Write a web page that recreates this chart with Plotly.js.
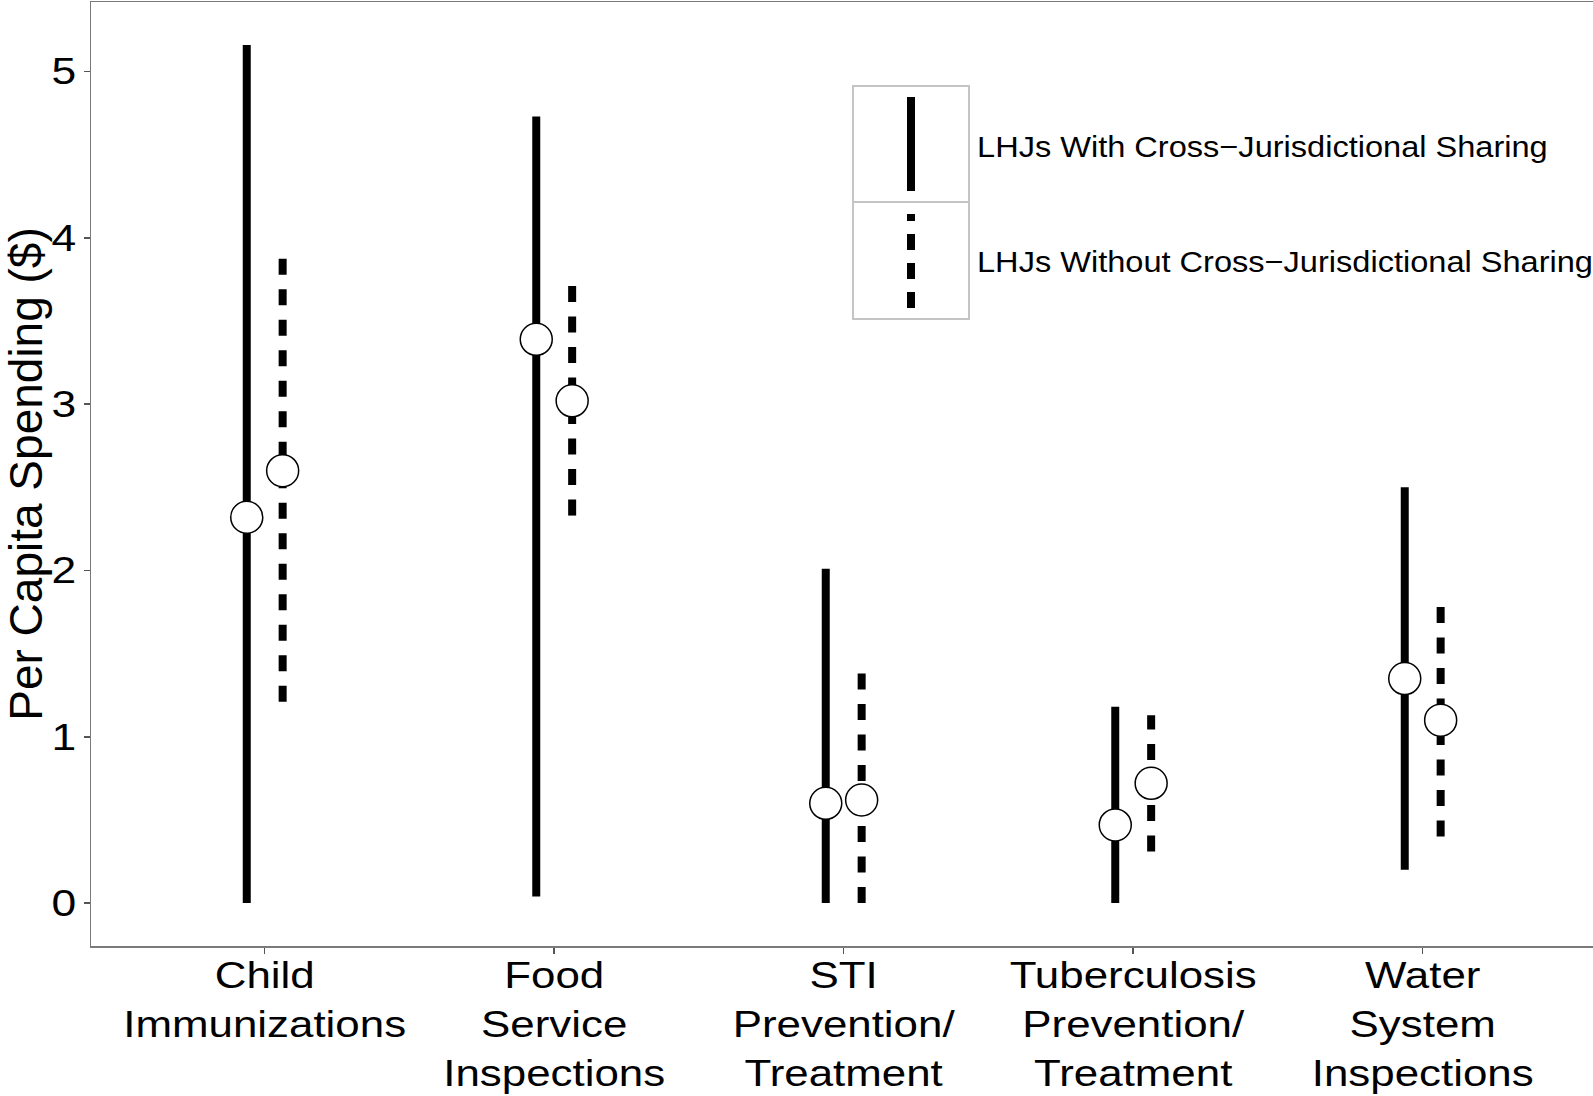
<!DOCTYPE html>
<html>
<head>
<meta charset="utf-8">
<script src="https://cdn.plot.ly/plotly-3.0.1.min.js"></script>
<style>
  html, body { margin: 0; padding: 0; background: #ffffff; }
  #chart { width: 1593px; height: 1096px; }
</style>
</head>
<body>
<div id="chart"></div>
<script>
// ---- data ----
const categories = [
  'Child<br>Immunizations',
  'Food<br>Service<br>Inspections',
  'STI<br>Prevention/<br>Treatment',
  'Tuberculosis<br>Prevention/<br>Treatment',
  'Water<br>System<br>Inspections'
];
const seriesNames = ['LHJs With Cross\u2212Jurisdictional Sharing', 'LHJs Without Cross\u2212Jurisdictional Sharing'];
const withMean  = [2.32, 3.39, 0.60, 0.47, 1.35];
const withLow   = [0.00, 0.04, 0.00, 0.00, 0.20];
const withHigh  = [5.16, 4.73, 2.01, 1.18, 2.50];
const withoutMean = [2.60, 3.02, 0.62, 0.72, 1.10];
const withoutLow  = [1.21, 2.33, 0.00, 0.31, 0.40];
const withoutHigh = [3.89, 3.72, 1.39, 1.13, 1.79];
const yTicks = [0, 1, 2, 3, 4, 5];

// ---- layout constants ----
const W = 1593, H = 1096;
const M = { l: 91, r: 0, t: 2, b: 150 };
const plotW = W - M.l - M.r, plotH = H - M.t - M.b;
const dodge = 0.062;
const FONT = '"Liberation Sans", Arial, Helvetica, sans-serif';
const DASH = '16px,14.5px';

const catPos = categories.map((c, i) => i + 1);
const traces = [];
const groups = [
  { name: seriesNames[0], mean: withMean, low: withLow, high: withHigh, off: -dodge, dash: 'solid' },
  { name: seriesNames[1], mean: withoutMean, low: withoutLow, high: withoutHigh, off: dodge, dash: DASH }
];
groups.forEach(g => {
  catPos.forEach((p, i) => {
    traces.push({
      type: 'scatter', mode: 'lines',
      x: [p + g.off, p + g.off], y: [g.low[i], g.high[i]],
      line: { color: '#000000', width: 8, dash: g.dash },
      name: g.name, showlegend: false, hoverinfo: 'skip'
    });
  });
});
groups.forEach(g => {
  traces.push({
    type: 'scatter', mode: 'markers',
    x: catPos.map(p => p + g.off), y: g.mean,
    marker: { size: 32, color: '#ffffff', line: { color: '#000000', width: 1.5 } },
    name: g.name, showlegend: false
  });
});

// pixel -> paper helpers for the hand-drawn legend
const px = x => (x - M.l) / plotW;
const py = y => (H - M.b - y) / plotH;

const legendColor = '#c4c4c4';
const shapes = [
  { type: 'rect', xref: 'paper', yref: 'paper', x0: px(853), x1: px(969), y0: py(319), y1: py(86),
    line: { color: legendColor, width: 2 }, fillcolor: '#ffffff', layer: 'above' },
  { type: 'line', xref: 'paper', yref: 'paper', x0: px(853), x1: px(969), y0: py(202), y1: py(202),
    line: { color: legendColor, width: 2 }, layer: 'above' },
  { type: 'line', xref: 'paper', yref: 'paper', x0: px(911), x1: px(911), y0: py(191), y1: py(97),
    line: { color: '#000000', width: 8 }, layer: 'above' },
  { type: 'line', xref: 'paper', yref: 'paper', x0: px(911), x1: px(911), y0: py(308), y1: py(214),
    line: { color: '#000000', width: 8, dash: '16px,13px' }, layer: 'above' }
];
const annotations = [
  { xref: 'paper', yref: 'paper', x: px(975), y: py(146), xanchor: 'left', yanchor: 'middle',
    text: seriesNames[0], showarrow: false, font: { family: FONT, size: 30, color: '#000000' } },
  { xref: 'paper', yref: 'paper', x: px(975), y: py(261), xanchor: 'left', yanchor: 'middle',
    text: seriesNames[1], showarrow: false, font: { family: FONT, size: 30, color: '#000000' } }
];

const layout = {
  width: W, height: H,
  margin: M,
  paper_bgcolor: '#ffffff', plot_bgcolor: '#ffffff',
  showlegend: false,
  font: { family: FONT, color: '#000000' },
  xaxis: {
    range: [0.4, 0.4 + plotW / 289.5],
    tickvals: catPos, ticktext: categories,
    showgrid: false, zeroline: false,
    showline: true, mirror: true, linecolor: '#7a7a7a', linewidth: 1.5,
    ticks: 'outside', ticklen: 6, tickwidth: 1.5, tickcolor: '#555555',
    ticklabelstandoff: -10,
    tickfont: { family: FONT, size: 37.5, color: '#000000' },
    automargin: false, fixedrange: true
  },
  yaxis: {
    range: [-0.258, 5.418],
    tickvals: yTicks, ticktext: yTicks.map(String),
    showgrid: false, zeroline: false,
    showline: true, mirror: false, linecolor: '#7a7a7a', linewidth: 1.5,
    ticks: 'outside', ticklen: 6, tickwidth: 1.5, tickcolor: '#555555',
    tickfont: { family: FONT, size: 37, color: '#000000' },
    title: { text: 'Per Capita Spending ($)', font: { family: FONT, size: 46, color: '#000000' }, standoff: 2 },
    automargin: false, fixedrange: true
  },
  shapes: shapes,
  annotations: annotations
};

// the reference's text glyphs are drawn horizontally wider than standard Arial
function stretch(selector, s, mode) {
  document.querySelectorAll(selector).forEach(el => {
    try {
      const r = el.getBoundingClientRect();
      const anchor = mode || el.getAttribute('text-anchor') || 'start';
      const cx = anchor === 'middle' ? (r.left + r.right) / 2 : anchor === 'end' ? r.right : r.left;
      const svg = el.ownerSVGElement;
      const pt = svg.createSVGPoint();
      pt.x = cx; pt.y = r.top;
      const p = pt.matrixTransform(el.parentNode.getScreenCTM().inverse());
      const t = el.getAttribute('transform') || '';
      el.setAttribute('transform', `translate(${p.x},0) scale(${s},1) translate(${-p.x},0) ${t}`);
    } catch (e) { /* leave untouched */ }
  });
}

Plotly.newPlot('chart', traces, layout, { displayModeBar: false, staticPlot: true }).then(() => {
  stretch('.xtick text', 1.17, 'middle');
  stretch('.ytick text', 1.2, 'end');
  stretch('.annotation-text', 1.085, 'start');
});
</script>
</body>
</html>
